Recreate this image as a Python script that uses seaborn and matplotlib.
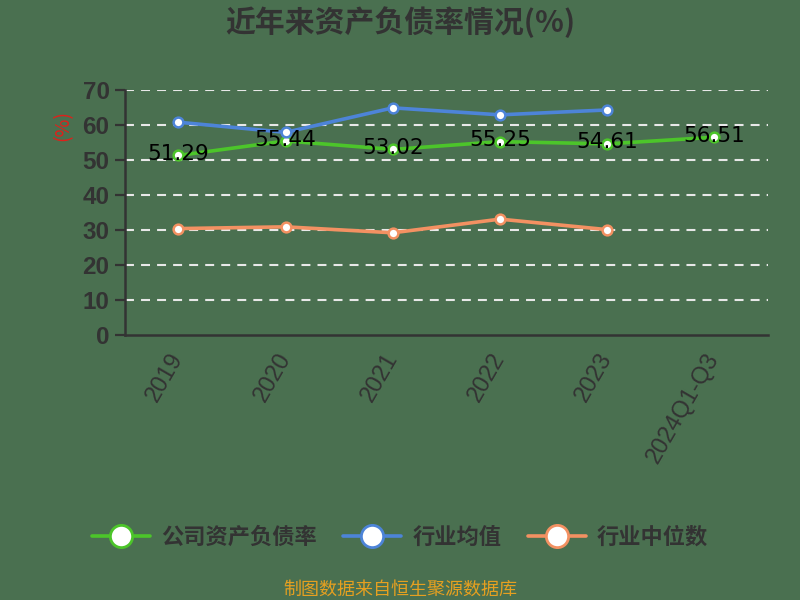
import pandas as pd
import matplotlib
matplotlib.use("Agg")
import matplotlib.pyplot as plt
import seaborn as sns
from matplotlib.ticker import MultipleLocator, FixedLocator

# data
periods = ["2019", "2020", "2021", "2022", "2023", "2024Q1-Q3"]
company = [51.29, 55.44, 53.02, 55.25, 54.61, 56.51]
industry_mean = [60.8, 57.9, 64.9, 62.9, 64.3, None]
industry_median = [30.4, 30.9, 29.2, 33.1, 30.1, None]
series_names = ["公司资产负债率", "行业均值", "行业中位数"]
series_colors = ["#4cc52a", "#4d84d8", "#f39162"]

bg = "#4a7050"
sns.set_theme(style="white")
plt.rcParams["font.family"] = ["Noto Sans CJK SC", "DejaVu Sans"]

df = pd.DataFrame({
    "period": periods * 3,
    "value": company + industry_mean + industry_median,
    "series": [n for n in series_names for _ in periods],
})

fig = plt.figure(figsize=(8, 6), dpi=100, facecolor=bg)
ax = fig.add_axes([0.156, 0.4417, 0.804, 0.4083])
ax.set_facecolor(bg)

for name, color in zip(series_names, series_colors):
    sub = df[df["series"] == name].dropna()
    sns.lineplot(data=sub, x="period", y="value", ax=ax, color=color, lw=2.6,
                 marker="o", markersize=7, markerfacecolor="white",
                 markeredgecolor=color, markeredgewidth=1.8, label=name, sort=False)

# value labels on company line
for i, v in enumerate(company):
    ax.text(i, v + 0.4, f"{v:.2f}", ha="center", va="center", fontsize=15.5,
            color="black", family=["DejaVu Sans"])

ax.set_xlim(-0.5, len(periods) - 0.5)
ax.set_ylim(0, 70)
ax.yaxis.set_major_locator(MultipleLocator(10))
for y in range(10, 71, 10):
    ax.axhline(y, color="#e8e8e8", lw=1.5, ls=(0, (4.3, 3.4)), zorder=0)

ax.set_xticks(range(len(periods)))
ax.set_xticklabels(periods, rotation=60, ha="right", va="center", rotation_mode="anchor",
                   fontsize=17, color="#333333", family=["Liberation Sans"])
for lbl in ax.get_yticklabels():
    lbl.set_family(["Liberation Sans"])
    lbl.set_fontweight("bold")
ax.xaxis.set_minor_locator(FixedLocator([i - 0.5 for i in range(len(periods) + 1)]))
ax.tick_params(axis="x", which="major", length=0, pad=14)
ax.tick_params(axis="x", which="minor", length=7, width=1.6, color="#333333", direction="out")
ax.tick_params(axis="y", length=7, width=1.6, color="#333333", labelsize=17.5,
               labelcolor="#333333", pad=4)
ax.tick_params(axis="both", bottom=True, left=True)

for side in ["top", "right"]:
    ax.spines[side].set_visible(False)
for side in ["left", "bottom"]:
    ax.spines[side].set_color("#333333")
    ax.spines[side].set_linewidth(1.8)

ax.set_xlabel("")
ax.set_ylabel("(%)", color="#e0201a", fontsize=14)
ax.yaxis.set_label_coords(-0.08, 0.857)

handles, labels = ax.get_legend_handles_labels()
ax.legend_.remove()
leg = fig.legend(handles, labels, loc="center", bbox_to_anchor=(0.5, 0.105), ncol=3,
                 frameon=False, fontsize=16, handlelength=2.6, columnspacing=1.2,
                 handletextpad=0.5)
for h in leg.legend_handles:
    h.set_markersize(16)
    h.set_markeredgewidth(2)
for t in leg.get_texts():
    t.set_color("#333333")
    t.set_fontweight("bold")

fig.text(0.5, 0.963, "近年来资产负债率情况(%)", ha="center", va="center",
         fontsize=21.5, fontweight="bold", color="#333333")
fig.text(0.5, 0.017, "制图数据来自恒生聚源数据库", ha="center", va="center",
         fontsize=13, color="#e6a020")

fig.savefig("out.png", dpi=100, facecolor=bg)
